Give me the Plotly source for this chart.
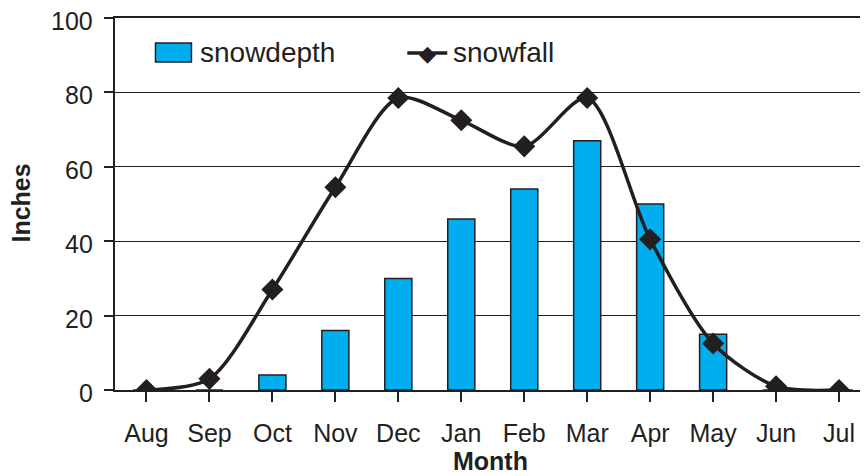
import plotly.graph_objects as go

months = ["Aug", "Sep", "Oct", "Nov", "Dec", "Jan", "Feb", "Mar", "Apr", "May", "Jun", "Jul"]
snowdepth = [0, 0, 4, 16, 30, 46, 54, 67, 50, 15, 0, 0]
snowfall = [0, 3, 27, 54.5, 78.5, 72.5, 65.5, 78.5, 40.5, 12.5, 1, 0]
y_ticks = [0, 20, 40, 60, 80, 100]

ink = "#231f20"
blue = "#00aeef"
font = "Liberation Sans, Arial, sans-serif"

# page is rendered with an 8px body margin; compensate
OFF = 8
W, H = 868 - OFF, 476 - OFF
L = 114.5 - OFF
T = 18 - OFF
B = H - (390 - OFF)
pw = W - L
ph = H - T - B

def px(x):
    return (x - OFF - L) / pw

def py(y):
    return (H - B - (y - OFF)) / ph

fig = go.Figure()
fig.add_trace(go.Bar(
    x=list(range(len(months))), y=snowdepth, name="snowdepth",
    width=0.43, marker=dict(color=blue, line=dict(color=ink, width=1.5)),
    showlegend=False,
))
fig.add_trace(go.Scatter(
    x=list(range(len(months))), y=snowfall, name="snowfall",
    mode="lines+markers", line=dict(color=ink, width=3.5, shape="spline", smoothing=0.8),
    marker=dict(symbol="diamond", size=17, color=ink),
    showlegend=False,
))

shapes = [
    dict(type="rect", xref="paper", yref="paper",
         x0=px(155), x1=px(191), y0=py(62), y1=py(43),
         fillcolor=blue, line=dict(color=ink, width=1.5)),
    dict(type="line", xref="paper", yref="paper",
         x0=px(407), x1=px(447), y0=py(53), y1=py(53),
         line=dict(color=ink, width=3.5)),
]
annotations = [
    dict(text="snowdepth", xref="paper", yref="paper", x=px(198), y=py(52),
         xanchor="left", yanchor="middle", showarrow=False,
         font=dict(family=font, size=28, color=ink)),
    dict(text="snowfall", xref="paper", yref="paper", x=px(451), y=py(52),
         xanchor="left", yanchor="middle", showarrow=False,
         font=dict(family=font, size=28, color=ink)),
    dict(text="◆", xref="paper", yref="paper", x=px(427), y=py(53),
         xanchor="center", yanchor="middle", showarrow=False,
         font=dict(family="DejaVu Sans", size=22, color=ink)),
    dict(text="<b>Inches</b>", xref="paper", yref="paper", x=px(20), y=py(203),
         xanchor="center", yanchor="middle", textangle=-90, showarrow=False,
         font=dict(family=font, size=25, color=ink)),
    dict(text="<b>Month</b>", xref="paper", yref="paper", x=px(490), y=py(477),
         xanchor="center", yanchor="bottom", showarrow=False,
         font=dict(family=font, size=25, color=ink)),
]
# y tick labels (drawn slightly below their gridlines, as in the original)
for v in y_ticks:
    annotations.append(dict(
        text=str(v), xref="paper", yref="y", x=px(94), y=v, yshift=-3,
        xanchor="right", yanchor="middle", showarrow=False,
        font=dict(family=font, size=25, color=ink)))

fig.update_layout(
    width=W, height=H,
    margin=dict(l=L, r=0, t=T, b=B),
    paper_bgcolor="white", plot_bgcolor="white",
    font=dict(family=font, size=25, color=ink),
    shapes=shapes, annotations=annotations,
    bargap=0.5,
)
fig.update_xaxes(
    range=[-0.5, 11.46], tickmode="array", tickvals=list(range(len(months))),
    ticktext=months, tickson="boundaries", ticks="outside", ticklen=10,
    tickwidth=1.5, tickcolor=ink, showline=True, linecolor=ink, linewidth=1.5,
    mirror=True, showgrid=False, zeroline=False, ticklabelstandoff=10,
    automargin=False, ticklabeloverflow="allow",
)
fig.update_yaxes(
    range=[0, 100], tickvals=y_ticks, ticks="outside", ticklen=9, tickwidth=1.5,
    tickcolor=ink, showline=True, linecolor=ink, linewidth=1.5,
    showgrid=True, gridcolor=ink, gridwidth=1.3, zeroline=False,
    showticklabels=False, automargin=False,
)

fig.write_html("out.html")
